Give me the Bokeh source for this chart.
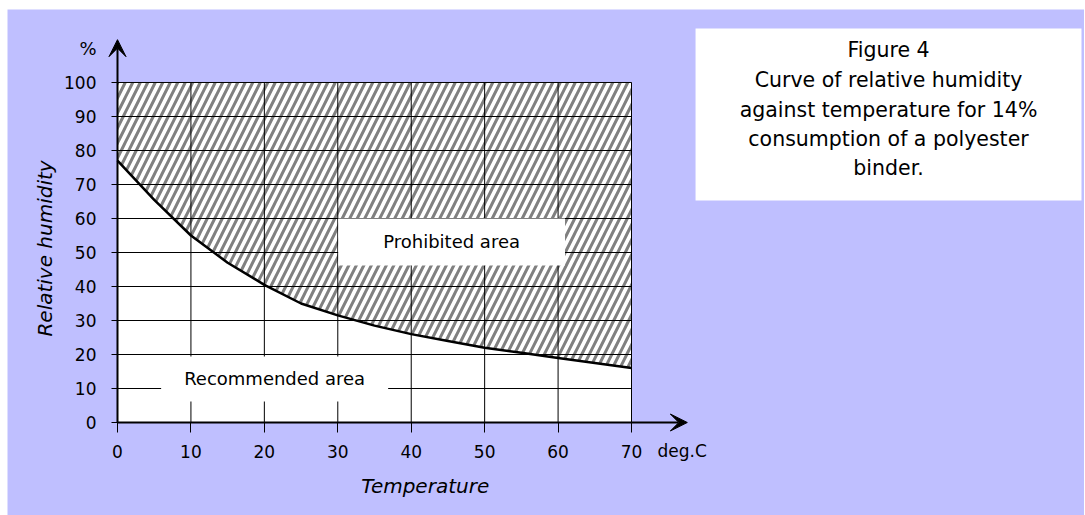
import math
from bokeh.plotting import figure
from bokeh.models import (Range1d, FixedTicker, Arrow, VeeHead, Label, BoxAnnotation,
                          ColumnDataSource)
from bokeh.embed import file_html
from bokeh.resources import INLINE

# ---- data ----
temperature = [0, 5, 10, 15, 20, 25, 30, 35, 40, 45, 50, 55, 60, 65, 70]
humidity = [77, 65.5, 55, 47, 40.5, 35, 31.5, 28.5, 26, 24, 22, 20.5, 19, 17.5, 16]
x_ticks = [0, 10, 20, 30, 40, 50, 60, 70]
y_ticks = [0, 10, 20, 30, 40, 50, 60, 70, 80, 90, 100]
title_lines = ["Figure 4", "Curve of relative humidity", "against temperature for 14%",
               "consumption of a polyester", "binder."]
area_labels = ["Prohibited area", "Recommended area"]
x_title, y_title, x_unit, y_unit = "Temperature", "Relative humidity", "deg.C", "%"

FONT = "DejaVu Sans"
LAV = "#BFBFFF"
X0, X1 = x_ticks[0], x_ticks[-1]
Y0, Y1 = y_ticks[0], y_ticks[-1]

src = ColumnDataSource(dict(x=temperature, y=humidity, top=[Y1] * len(temperature)))

p = figure(width=1077, height=506, x_range=Range1d(-14.98, 131.69),
           y_range=Range1d(-27.35, 121.47),
           output_backend="svg", toolbar_location=None,
           min_border=0, background_fill_color=LAV, border_fill_color=LAV,
           outline_line_color=None, margin=(9, 1, 0, 7))

# white plotting area
p.add_layout(BoxAnnotation(left=X0, right=X1, bottom=Y0, top=Y1, fill_color="white",
                           fill_alpha=1, line_color="black", line_width=1, level="underlay"))

# hatched prohibited region
p.varea(x="x", y1="y", y2="top", source=src, fill_color="white", fill_alpha=1,
        hatch_pattern="/", hatch_color="#808080", hatch_weight=3, hatch_scale=15)

# grid lines
p.segment(x0=x_ticks, y0=[Y0] * len(x_ticks), x1=x_ticks, y1=[Y1] * len(x_ticks),
          line_color="black", line_width=1)
p.segment(x0=[X0] * len(y_ticks), y0=y_ticks, x1=[X1] * len(y_ticks), y1=y_ticks,
          line_color="black", line_width=1)

# boundary curve
p.line(x="x", y="y", source=src, line_color="black", line_width=2.5)

# axes
p.grid.visible = False
for ax, ticks in ((p.xaxis, x_ticks), (p.yaxis, y_ticks)):
    ax.ticker = FixedTicker(ticks=ticks)
    ax.fixed_location = 0
    ax.axis_line_color = "black"
    ax.axis_line_width = 2
    ax.major_tick_line_color = "black"
    ax.major_tick_in = 0
    ax.minor_tick_line_color = None
    ax.major_label_text_font = FONT
    ax.major_label_text_font_size = "17px"
    ax.major_label_text_color = "black"
p.xaxis.bounds = (X0, X1)
p.yaxis.bounds = (Y0, Y1)
p.xaxis.major_tick_out = 10
p.xaxis.major_label_standoff = 12
p.yaxis.major_tick_out = 6
p.yaxis.major_label_standoff = 15

# axis arrows
p.add_layout(Arrow(end=VeeHead(size=17, fill_color="black", line_color="black"),
                   x_start=X0, y_start=Y1, x_end=X0, y_end=112.6,
                   line_color="black", line_width=2))
p.add_layout(Arrow(end=VeeHead(size=17, fill_color="black", line_color="black"),
                   x_start=X1, y_start=Y0, x_end=77.6, y_end=Y0,
                   line_color="black", line_width=2))

def lab(text, x, y, size="18px", style="normal", **kw):
    l = Label(text=text, x=x, y=y, text_font=FONT,
              text_font_size=size, text_font_style=style, text_color="black",
              text_align=kw.pop("align", "center"), text_baseline=kw.pop("baseline", "middle"), **kw)
    p.add_layout(l)
    return l

lab(y_unit, -4.0, 110.0)
lab(x_unit, 76.9, -8.3, size="17px")
lab(x_title, 41.9, -18.8, size="20px", style="italic")
lab(y_title, -9.9, 51.2, size="20px", style="italic", angle=math.pi / 2)

# area labels with white boxes
lab(area_labels[0], 45.5, 53.1, background_fill_color="white",
    padding=dict(left=45, right=45, top=13, bottom=13))
lab(area_labels[1], 21.4, 12.8, background_fill_color="white",
    padding=dict(left=23, right=23, top=12, bottom=12))

# title box
p.add_layout(BoxAnnotation(left=78.72, right=131.28, bottom=65.29, top=115.88,
                           fill_color="white", fill_alpha=1, line_color=None))
centers = [109.47, 100.65, 91.82, 83.5, 74.97]
for t, c in zip(title_lines, centers):
    lab(t, 105.0, c, size="20.5px")

open("out.html", "w").write(file_html(p, INLINE))
